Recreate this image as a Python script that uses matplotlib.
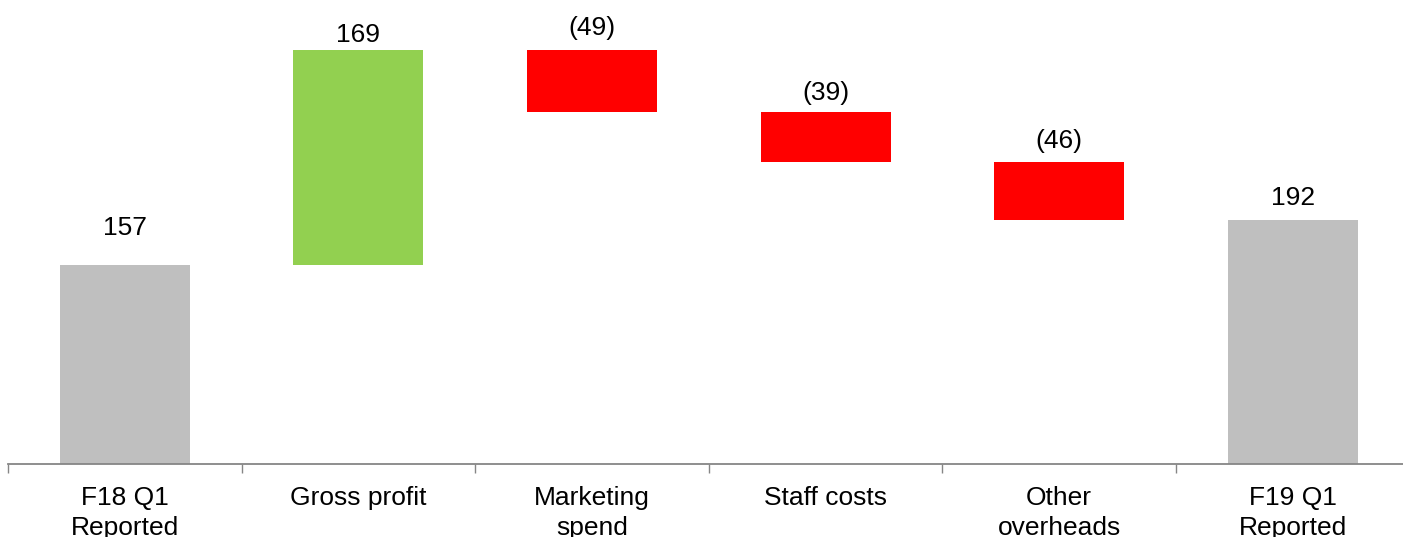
import matplotlib.pyplot as plt

plt.rcParams['font.family'] = ['Liberation Sans', 'DejaVu Sans']

categories = ['F18 Q1\nReported', 'Gross profit', 'Marketing\nspend',
              'Staff costs', 'Other\noverheads', 'F19 Q1\nReported']
changes = [157, 169, -49, -39, -46, 192]
kinds = ['total', 'up', 'down', 'down', 'down', 'total']
labels = ['157', '169', '(49)', '(39)', '(46)', '192']

colors = {'total': '#BFBFBF', 'up': '#92D050', 'down': '#FF0000'}
# label gap above the bar top, in points
label_pad = [21, 6, 11, 9, 10, 11]

bottoms = []
heights = []
run = 0
for v, k in zip(changes, kinds):
    if k == 'total':
        bottoms.append(0)
        heights.append(v)
        run = v
    elif v >= 0:
        bottoms.append(run)
        heights.append(v)
        run += v
    else:
        run += v
        bottoms.append(run)
        heights.append(-v)

fig = plt.figure(figsize=(14.03, 5.37), dpi=100)
ax = fig.add_axes([8/1403, (537-463.5)/537, 1401.6/1403, 456.3/537])

x = range(len(categories))
ax.bar(x, heights, bottom=bottoms, width=0.557,
       color=[colors[k] for k in kinds], zorder=2)

for i in x:
    top = bottoms[i] + heights[i]
    ax.annotate(labels[i], (i, top), xytext=(0, label_pad[i]),
                textcoords='offset points', ha='center', va='baseline',
                fontsize=19, color='black')

ax.set_xlim(-0.5, len(categories) - 0.5)
ax.set_ylim(0, 360)
ax.set_xticks([i + 0.5 for i in range(-1, len(categories))], minor=False)
ax.set_xticklabels([])
ax.set_xticks(list(x), minor=True)
ax.set_xticklabels(categories, minor=True, fontsize=19, linespacing=1.35)
ax.tick_params(axis='x', which='major', length=6.5, width=1, color='#868686', direction='out')
ax.tick_params(axis='x', which='minor', length=0, pad=16)
ax.set_yticks([])
for s in ['left', 'right', 'top']:
    ax.spines[s].set_visible(False)
ax.spines['bottom'].set_color('#868686')
ax.spines['bottom'].set_linewidth(1.3)

fig.savefig('out.png', dpi=100)
